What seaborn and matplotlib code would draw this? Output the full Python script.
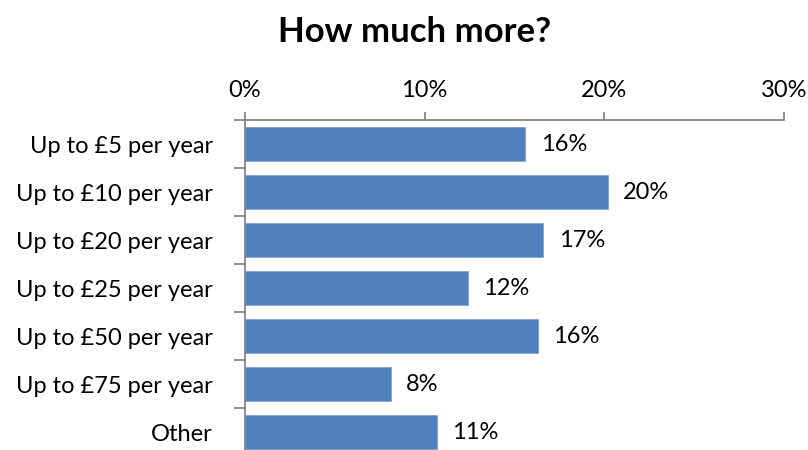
import matplotlib
matplotlib.use("Agg")
import matplotlib.pyplot as plt
import seaborn as sns
import pandas as pd
import numpy as np

categories = ["Up to £5 per year", "Up to £10 per year", "Up to £20 per year",
              "Up to £25 per year", "Up to £50 per year", "Up to £75 per year", "Other"]
shares = [15.6, 20.2, 16.6, 12.4, 16.3, 8.1, 10.7]
x_ticks = [0, 10, 20, 30]
x_tick_labels = ["0%", "10%", "20%", "30%"]
title = "How much more?"

df = pd.DataFrame({"category": categories, "share": shares})

sns.set_theme(style="white")
plt.rcParams["font.family"] = ["Lato", "DejaVu Sans"]
plt.rcParams["text.color"] = "black"

fig = plt.figure(figsize=(8.08, 4.5), dpi=100)
ax = fig.add_axes([245 / 808, 1 - 456 / 450, 539 / 808, 336 / 450])

bar_color = "#4F81BD"
axis_gray = "#868686"
label_size = 17

sns.barplot(data=df, x="share", y="category", orient="h", color=bar_color,
            saturation=1, width=0.69, edgecolor="#7FA3D0", linewidth=0.6, ax=ax)

ax.set_xlim(0, 30)
ax.set_ylim(len(categories) - 0.5, -0.5)

# x axis across the top
ax.xaxis.tick_top()
ax.set_xticks(x_ticks)
ax.set_xticklabels(x_tick_labels, fontsize=label_size)
ax.tick_params(axis="x", which="major", direction="out", length=6, width=1.3,
               color=axis_gray, pad=8, labelcolor="black")

# category labels, with separators between categories as minor ticks
ax.set_yticks(range(len(categories)))
ax.set_yticklabels(categories, fontsize=label_size)
ax.tick_params(axis="y", which="major", length=0, pad=23, labelcolor="black")
ax.set_yticks(np.arange(-0.5, len(categories) + 0.5, 1), minor=True)
ax.tick_params(axis="y", which="minor", direction="out", length=8, width=1.3,
               color=axis_gray, left=True)

ax.set_xlabel("")
ax.set_ylabel("")

for name in ["right", "bottom"]:
    ax.spines[name].set_visible(False)
for name in ["top", "left"]:
    ax.spines[name].set_visible(True)
    ax.spines[name].set_color(axis_gray)
    ax.spines[name].set_linewidth(1.3)

for i, v in enumerate(shares):
    ax.text(v + 0.85, i, f"{round(v):.0f}%", va="center", ha="left",
            fontsize=label_size, color="black")

fig.text(415 / 808, 1 - 32 / 450, title, ha="center", va="center",
         fontsize=25, fontweight="bold", color="black")

fig.savefig("out.png", dpi=100)
